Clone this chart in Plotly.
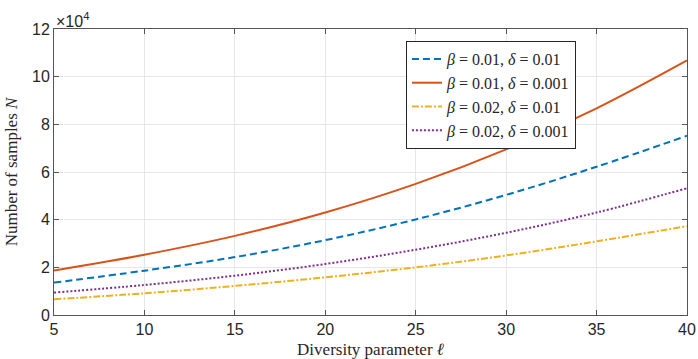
import plotly.graph_objects as go

ell = [5, 10, 15, 20, 25, 30, 35, 40]
n_b001_d001 = [13600, 18600, 24300, 31400, 40100, 50400, 62200, 75200]
n_b001_d0001 = [18700, 25300, 33200, 43000, 55000, 69500, 86700, 106800]
n_b002_d001 = [6600, 9100, 12200, 15800, 20000, 25000, 30900, 37300]
n_b002_d0001 = [9400, 12600, 16500, 21400, 27400, 34500, 43000, 53200]

names = ["<i>β</i> = 0.01, <i>δ</i> = 0.01",
         "<i>β</i> = 0.01, <i>δ</i> = 0.001",
         "<i>β</i> = 0.02, <i>δ</i> = 0.01",
         "<i>β</i> = 0.02, <i>δ</i> = 0.001"]
series = [n_b001_d001, n_b001_d0001, n_b002_d001, n_b002_d0001]
colors = ["#0072BD", "#D95319", "#EDB120", "#7E2F8E"]
dashes = ["7px,4px", "solid", "7px,2px,2px,2px", "2px,2px"]

ytick_vals = [0, 20000, 40000, 60000, 80000, 100000, 120000]
ytick_text = ["0", "2", "4", "6", "8", "10", "12"]
xtick_vals = [5, 10, 15, 20, 25, 30, 35, 40]

fig = go.Figure()
for nm, ys, c, d in zip(names, series, colors, dashes):
    fig.add_trace(go.Scatter(x=ell, y=ys, mode="lines", name=nm,
                             line=dict(color=c, width=2, dash=d, shape="spline", smoothing=1.0)))

axis_common = dict(showline=True, linecolor="#555555", linewidth=1, mirror="allticks",
                   ticks="inside", ticklen=5, tickcolor="#555555", automargin=False,
                   showgrid=True, gridcolor="#e6e6e6", gridwidth=1, zeroline=False,
                   tickfont=dict(family="Liberation Sans, Arial", size=16, color="#262626"))

fig.update_xaxes(range=[5, 40], tickvals=xtick_vals,
                 title=dict(text="Diversity parameter <i>ℓ</i>", standoff=6,
                            font=dict(family="Liberation Serif, serif", size=17, color="#262626")),
                 **axis_common)
fig.update_yaxes(range=[0, 120000], tickvals=ytick_vals, ticktext=ytick_text,
                 title=dict(text="Number of samples <i>N</i>", standoff=10,
                            font=dict(family="Liberation Serif, serif", size=17, color="#262626")),
                 **axis_common)

fig.add_annotation(xref="paper", yref="paper", x=0.0, y=1.0, xanchor="left", yanchor="bottom",
                   text="×10<sup>4</sup>", showarrow=False, xshift=0, yshift=-3,
                   font=dict(family="Liberation Sans, Arial", size=16, color="#262626"))

fig.update_layout(width=698, height=359,
                  margin=dict(l=54, r=11, t=29, b=44),
                  plot_bgcolor="white", paper_bgcolor="white",
                  legend=dict(x=0.556, y=0.958, xanchor="left", yanchor="top",
                              bgcolor="white", bordercolor="#262626", borderwidth=1,
                              itemwidth=30, tracegroupgap=0,
                              font=dict(family="Liberation Serif, serif", size=16, color="#262626")))

fig.write_html("out.html")
